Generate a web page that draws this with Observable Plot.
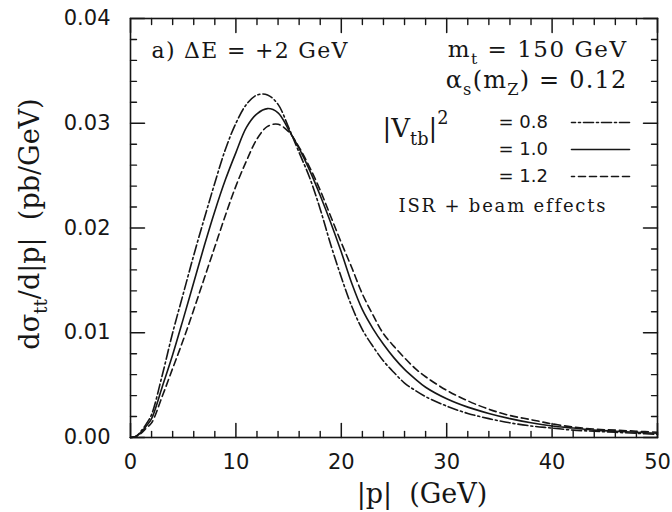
<!DOCTYPE html>
<html>
<head>
<meta charset="utf-8">
<script src="https://cdn.jsdelivr.net/npm/d3@7"></script>
<script src="https://cdn.jsdelivr.net/npm/@observablehq/plot@0.6"></script>
<style>
  html, body { margin: 0; padding: 0; background: #fff; }
  svg text { white-space: pre; }
</style>
</head>
<body>
<div id="chart"></div>
<script>
// |p| in GeV
const xs = [0,0.5,1,1.5,2,3,4,5,6,7,8,9,10,11,12,13,14,15,16,17,18,19,20,21,22,23,24,25,26,27,28,30,32,34,36,38,40,42,44,46,48,50];
// dσ/d|p| (pb/GeV) for |Vtb|^2 = 0.8 (dash-dot)
const vtb08 = [0,0.0001,0.0006,0.0013,0.0022,0.0059,0.0100,0.0137,0.0174,0.0209,0.0243,0.0275,0.0300,0.0318,0.0327,0.0327,0.0318,0.0296,0.0272,0.0248,0.0218,0.0184,0.0153,0.0125,0.0103,0.0087,0.0073,0.0062,0.0052,0.0045,0.0039,0.0030,0.0023,0.0018,0.0014,0.0011,0.0009,0.0007,0.0006,0.0005,0.0004,0.0003];
// |Vtb|^2 = 1.0 (solid)
const vtb10 = [0,0.0001,0.0005,0.0011,0.0018,0.0048,0.0079,0.0113,0.0148,0.0183,0.0216,0.0246,0.0272,0.0296,0.0309,0.0314,0.0310,0.0294,0.0276,0.0255,0.0231,0.0205,0.0177,0.0147,0.0122,0.0104,0.0089,0.0076,0.0065,0.0056,0.0048,0.0037,0.0029,0.0023,0.0018,0.0014,0.0011,0.0009,0.0007,0.0006,0.0005,0.0004];
// |Vtb|^2 = 1.2 (dashed)
const vtb12 = [0,0.0001,0.0004,0.0009,0.0014,0.0039,0.0066,0.0093,0.0122,0.0152,0.0182,0.0212,0.0240,0.0264,0.0285,0.0297,0.0299,0.0292,0.0277,0.0258,0.0236,0.0211,0.0186,0.0162,0.0137,0.0117,0.0099,0.0087,0.0076,0.0066,0.0058,0.0045,0.0035,0.0027,0.0021,0.0017,0.0013,0.0010,0.0008,0.0007,0.0006,0.0005];

const xMajor = [0,10,20,30,40,50];
const xMinor = [2,4,6,8,12,14,16,18,22,24,26,28,32,34,36,38,42,44,46,48];
const yMajor = [0,0.01,0.02,0.03,0.04];
const yMinor = [0.002,0.004,0.006,0.008,0.012,0.014,0.016,0.018,0.022,0.024,0.026,0.028,0.032,0.034,0.036,0.038];

const seriesNames = ["= 0.8", "= 1.0", "= 1.2"];
const seriesDash = ["10,3,2,3", null, "7,4"];
const seriesValues = [vtb08, vtb10, vtb12];

const W = 672, H = 512;
const mL = 130, mR = 15, mT = 18, mB = 75;
const innerW = W - mL - mR, innerH = H - mT - mB;
const xDomain = [0, 50], yDomain = [0, 0.04];
const ink = "#161616";
const serif = "DejaVu Serif";
const sans = "DejaVu Sans";

// tick lengths (pixels) converted to data units of the scales, so ticks are drawn as short line marks
const majPx = 14, minPx = 6;
const toY = px => px / innerH * (yDomain[1] - yDomain[0]);
const toX = px => px / innerW * (xDomain[1] - xDomain[0]);
function tickSegments(vals, px, axis) {
  const out = [];
  vals.forEach((v, i) => {
    if (axis === "x") {
      out.push({x: v, y: yDomain[0], k: `b${px}-${i}`}, {x: v, y: yDomain[0] + toY(px), k: `b${px}-${i}`});
      out.push({x: v, y: yDomain[1], k: `t${px}-${i}`}, {x: v, y: yDomain[1] - toY(px), k: `t${px}-${i}`});
    } else {
      out.push({x: xDomain[0], y: v, k: `l${px}-${i}`}, {x: xDomain[0] + toX(px), y: v, k: `l${px}-${i}`});
      out.push({x: xDomain[1], y: v, k: `r${px}-${i}`}, {x: xDomain[1] - toX(px), y: v, k: `r${px}-${i}`});
    }
  });
  return out;
}

// straight segment shape for vector marks (legend swatches)
const lineShape = { draw(context, l) { context.moveTo(0, 0); context.lineTo(0, -l); } };

const marks = [];
// curves
seriesValues.forEach((vals, i) => {
  const data = xs.map((x, j) => ({x, y: vals[j]}));
  marks.push(Plot.line(data, {x: "x", y: "y", curve: "catmull-rom", stroke: ink, strokeWidth: 1.6, strokeDasharray: seriesDash[i]}));
});
// frame
marks.push(Plot.frame({stroke: ink, strokeWidth: 1.6}));
// inward ticks on all four sides
marks.push(Plot.line(tickSegments(xMajor, majPx, "x"), {x: "x", y: "y", z: "k", stroke: ink, strokeWidth: 1.5}));
marks.push(Plot.line(tickSegments(xMinor, minPx, "x"), {x: "x", y: "y", z: "k", stroke: ink, strokeWidth: 1.4}));
marks.push(Plot.line(tickSegments(yMajor, majPx, "y"), {x: "x", y: "y", z: "k", stroke: ink, strokeWidth: 1.5}));
marks.push(Plot.line(tickSegments(yMinor, minPx, "y"), {x: "x", y: "y", z: "k", stroke: ink, strokeWidth: 1.4}));
// tick labels
marks.push(Plot.axisX({ticks: xMajor, tickSize: 0, tickPadding: 17, tickFormat: d => String(d), fontSize: 21, fontFamily: sans, fill: ink, label: null}));
marks.push(Plot.axisY({ticks: yMajor, tickSize: 0, tickPadding: 20, tickFormat: d3.format(".2f"), fontSize: 21, fontFamily: sans, fill: ink, label: null}));
// axis titles
marks.push(Plot.text(["dσ_{tt}/d|p|  (pb/GeV)"], {frameAnchor: "left", dx: -100, dy: -4, rotate: -90, textAnchor: "middle", lineAnchor: "middle", fontSize: 27, fontFamily: serif, fill: ink}));
marks.push(Plot.text(["|p|  (GeV)"], {frameAnchor: "bottom", dx: 28, dy: 57, textAnchor: "middle", lineAnchor: "middle", fontSize: 27, fontFamily: serif, fill: ink}));
// annotations
marks.push(Plot.text(["a) ΔE = +2 GeV"], {frameAnchor: "top-left", dx: 21, dy: 32, textAnchor: "start", lineAnchor: "middle", fontSize: 22, fontFamily: serif, fill: ink}));
marks.push(Plot.text(["m_{t} = 150 GeV"], {frameAnchor: "top-right", dx: -30, dy: 31, textAnchor: "end", lineAnchor: "middle", fontSize: 23, fontFamily: serif, fill: ink}));
marks.push(Plot.text(["α_{s}(m_{Z}) = 0.12"], {frameAnchor: "top-right", dx: -30, dy: 62, textAnchor: "end", lineAnchor: "middle", fontSize: 24, fontFamily: serif, fill: ink}));
marks.push(Plot.text(["|V_{tb}|^{2}"], {frameAnchor: "top-left", dx: 252, dy: 110, textAnchor: "start", lineAnchor: "middle", fontSize: 26, fontFamily: serif, fill: ink}));
marks.push(Plot.text(["ISR + beam effects"], {frameAnchor: "top-left", dx: 268, dy: 188, textAnchor: "start", lineAnchor: "middle", fontSize: 18, fontFamily: serif, fill: ink}));
// legend rows
seriesNames.forEach((name, i) => {
  const rowDy = 104 + i * 27;
  marks.push(Plot.text([name], {frameAnchor: "top-left", dx: 368, dy: rowDy, textAnchor: "start", lineAnchor: "middle", fontSize: 18, fontFamily: sans, fill: ink}));
  marks.push(Plot.vector([name], {frameAnchor: "top-right", dx: -28, dy: rowDy, length: 58, rotate: -90, anchor: "start", shape: lineShape, stroke: ink, strokeWidth: 1.6, strokeDasharray: seriesDash[i]}));
});

const chart = Plot.plot({
  width: W, height: H,
  marginLeft: mL, marginRight: mR, marginTop: mT, marginBottom: mB,
  style: {background: "#fff", color: ink, fontFamily: sans},
  x: {domain: xDomain},
  y: {domain: yDomain},
  marks
});
document.getElementById("chart").appendChild(chart);

// letter spacing for the wide typewriter-like annotations
const spacing = {"a) ΔE = +2 GeV": 1.3, "m_{t} = 150 GeV": 1.5, "α_{s}(m_{Z}) = 0.12": 1.2, "ISR + beam effects": 1.8};
chart.querySelectorAll("text").forEach(t => {
  const s = spacing[t.textContent];
  if (s) t.setAttribute("letter-spacing", s);
});

// render _{..} and ^{..} as sub/superscript tspans (text stays text)
(function richify(svg) {
  const NS = "http://www.w3.org/2000/svg";
  svg.querySelectorAll("text").forEach(t => {
    const s = t.textContent;
    if (!/[_^]\{/.test(s)) return;
    const fs = parseFloat(getComputedStyle(t).fontSize) || 16;
    const parts = [];
    const re = /([_^])\{([^}]*)\}/g;
    let last = 0, m;
    while ((m = re.exec(s))) {
      if (m.index > last) parts.push(["", s.slice(last, m.index)]);
      parts.push([m[1], m[2]]);
      last = re.lastIndex;
    }
    if (last < s.length) parts.push(["", s.slice(last)]);
    while (t.firstChild) t.removeChild(t.firstChild);
    let shift = 0;
    for (const [k, str] of parts) {
      const target = k === "_" ? 0.3 * fs : k === "^" ? -0.5 * fs : 0;
      const ts = document.createElementNS(NS, "tspan");
      ts.setAttribute("dy", (target - shift).toFixed(2));
      shift = target;
      if (k) ts.setAttribute("font-size", (0.68 * fs).toFixed(1));
      ts.textContent = str;
      t.appendChild(ts);
    }
  });
})(chart);
</script>
</body>
</html>
